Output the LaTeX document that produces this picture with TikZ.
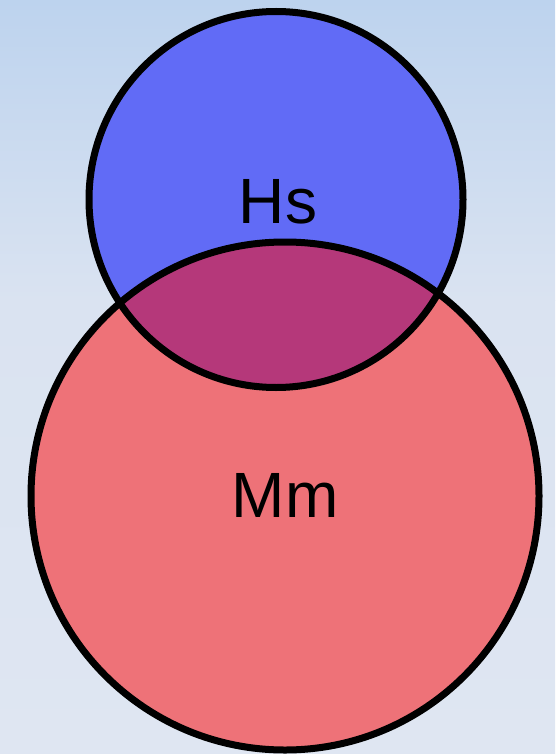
\documentclass[tikz,border=0pt]{standalone}
\usepackage{fontspec}
\setmainfont{Liberation Sans}
\definecolor{bgtop}{HTML}{BDD3EE}
\definecolor{bgmid}{HTML}{DAE3F1}
\definecolor{bgbot}{HTML}{DFE6F2}
\definecolor{hsblue}{HTML}{616BF6}
\definecolor{mmred}{HTML}{EE7278}
\definecolor{overlap}{HTML}{B5387A}
\begin{document}
\begin{tikzpicture}[x=1pt,y=-1pt,
  setedge/.style={draw=black,line width=7pt},
  setlabel/.style={anchor=base,inner sep=0pt,font=\fontsize{64}{64}\selectfont}]
\shade[top color=bgtop,bottom color=bgmid] (0,0) rectangle (555,300.5);
\shade[top color=bgmid,bottom color=bgbot] (0,300) rectangle (555,754);
\useasboundingbox (0,0) rectangle (555,754);
\fill[mmred] (285,496) ellipse [x radius=254, y radius=254];
\fill[hsblue] (276,199.5) ellipse [x radius=187, y radius=188];
\begin{scope}
\clip (276,199.5) ellipse [x radius=187, y radius=188];
\fill[overlap] (285,496) ellipse [x radius=254, y radius=254];
\end{scope}
\draw[setedge] (285,496) ellipse [x radius=254, y radius=254];
\draw[setedge] (276,199.5) ellipse [x radius=187, y radius=188];
\node[setlabel] (hs) at (278,223) {Hs};
\node[setlabel] (mm) at (285,517) {Mm};
\end{tikzpicture}
\end{document}
